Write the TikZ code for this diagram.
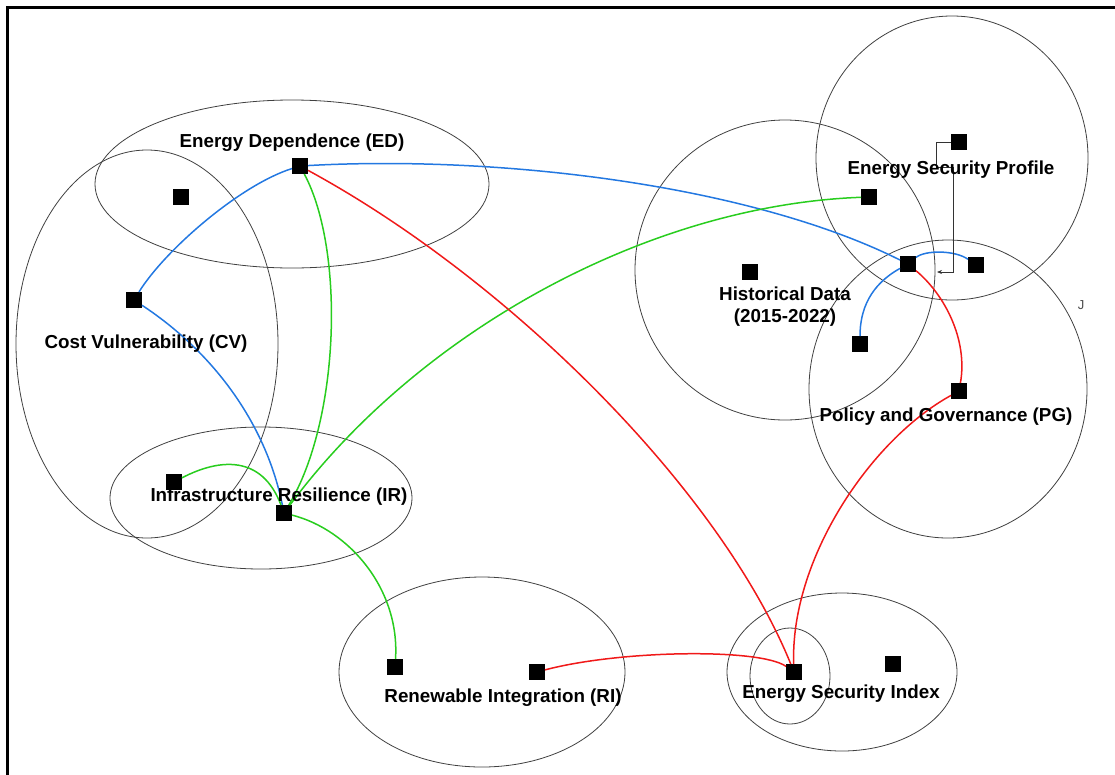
\documentclass[tikz,border=0pt]{standalone}
\usepackage{fontspec}
\setmainfont{Liberation Sans}
\usetikzlibrary{arrows.meta}
\definecolor{myblue}{RGB}{35,120,225}
\definecolor{mygreen}{RGB}{40,205,30}
\definecolor{myred}{RGB}{240,25,25}
\begin{document}
\begin{tikzpicture}[x=1pt,y=-1pt,
  sq/.style={fill=black,minimum size=16pt,inner sep=0pt,outer sep=0pt},
  ell/.style={draw=black!75,line width=0.8pt},
  lab/.style={font=\fontsize{18.8}{22}\selectfont\bfseries,text=black,inner sep=0pt,align=center},
  bl/.style={draw=myblue,line width=1.5pt},
  gr/.style={draw=mygreen,line width=1.5pt},
  rd/.style={draw=myred,line width=1.5pt},
  conn/.style={draw=black!80,line width=0.8pt}
]
\useasboundingbox (0,0) rectangle (1115,774);
% frame
\draw[line width=2.4pt] (7.5,780) -- (7.5,7.5) -- (1120,7.5);

% group outlines
\draw[ell] (292,184) ellipse [x radius=197, y radius=84];
\draw[ell] (147,344) ellipse [x radius=131, y radius=194];
\draw[ell] (261,498) ellipse [x radius=151, y radius=71];
\draw[ell] (482,672) ellipse [x radius=143, y radius=95];
\draw[ell] (842,672) ellipse [x radius=115, y radius=79];
\draw[ell] (790,676) ellipse [x radius=40, y radius=48];
\draw[ell] (785,270) ellipse [x radius=150, y radius=150];
\draw[ell] (952,158) ellipse [x radius=136, y radius=142];
\draw[ell] (948,389) ellipse [x radius=139, y radius=149];

% squares
\node[sq] (ed) at (300,166) {};
\node[sq] (edin) at (181,197) {};
\node[sq] (cv) at (134,300) {};
\node[sq] (ir) at (284,513) {};
\node[sq] (irin) at (174,482) {};
\node[sq] (ril) at (395,667) {};
\node[sq] (rir) at (537,672) {};
\node[sq] (esi) at (794,672) {};
\node[sq] (esir) at (893,664) {};
\node[sq] (hd) at (750,272) {};
\node[sq] (esptop) at (959,142) {};
\node[sq] (esp) at (869,197) {};
\node[sq] (hub) at (908,264) {};
\node[sq] (hubr) at (976,265) {};
\node[sq] (low) at (860,344) {};
\node[sq] (pg) at (959,391) {};

% blue connectors
\draw[bl] (ed) .. controls (240,185) and (165,250) .. (cv);
\draw[bl] (cv) .. controls (210,350) and (265,420) .. (ir);
\draw[bl] (ed) .. controls (500,155) and (750,185) .. (hub);
\draw[bl] (hub) .. controls (925,250) and (955,250) .. (hubr);
\draw[bl] (hub) .. controls (870,285) and (860,310) .. (low);

% green connectors
\draw[gr] (ed) .. controls (345,250) and (340,420) .. (ir);
\draw[gr] (ir) .. controls (420,330) and (650,205) .. (esp);
\draw[gr] (irin) .. controls (220,458) and (262,455) .. (ir);
\draw[gr] (ir) .. controls (350,530) and (400,590) .. (ril);

% red connectors
\draw[rd] (ed) .. controls (510,280) and (720,490) .. (esi);
\draw[rd] (rir) .. controls (620,650) and (760,648) .. (esi);
\draw[rd] (hub) .. controls (945,295) and (968,340) .. (pg);
\draw[rd] (pg) .. controls (870,440) and (790,560) .. (esi);

% black elbow connector
\coordinate (c1) at (936,142);
\coordinate (c2) at (936,167);
\coordinate (c3) at (953,167);
\coordinate (c4) at (953,272);
\coordinate (c5) at (937,272);
\draw[conn,-{Stealth[length=5pt,width=4pt]}] (esptop.west) -- (c1) -- (c2) -- (c3) -- (c4) -- (c5);

% labels
\node[lab] (led) at (292,143) {Energy Dependence (ED)};
\node[lab] (lcv) at (146,344) {Cost Vulnerability (CV)};
\node[lab] (lir) at (279,497) {Infrastructure Resilience (IR)};
\node[lab] (lri) at (503,698) {Renewable Integration (RI)};
\node[lab] (lesi) at (841,694) {Energy Security Index};
\node[lab] (lhd) at (785,307) {Historical Data\\(2015-2022)};
\node[lab] (lesp) at (951,170) {Energy Security Profile};
\node[lab] (lpg) at (946,417) {Policy and Governance (PG)};
\node[font=\fontsize{13}{15}\selectfont,text=black!70,inner sep=0pt] (lj) at (1081,305) {J};
\end{tikzpicture}
\end{document}
